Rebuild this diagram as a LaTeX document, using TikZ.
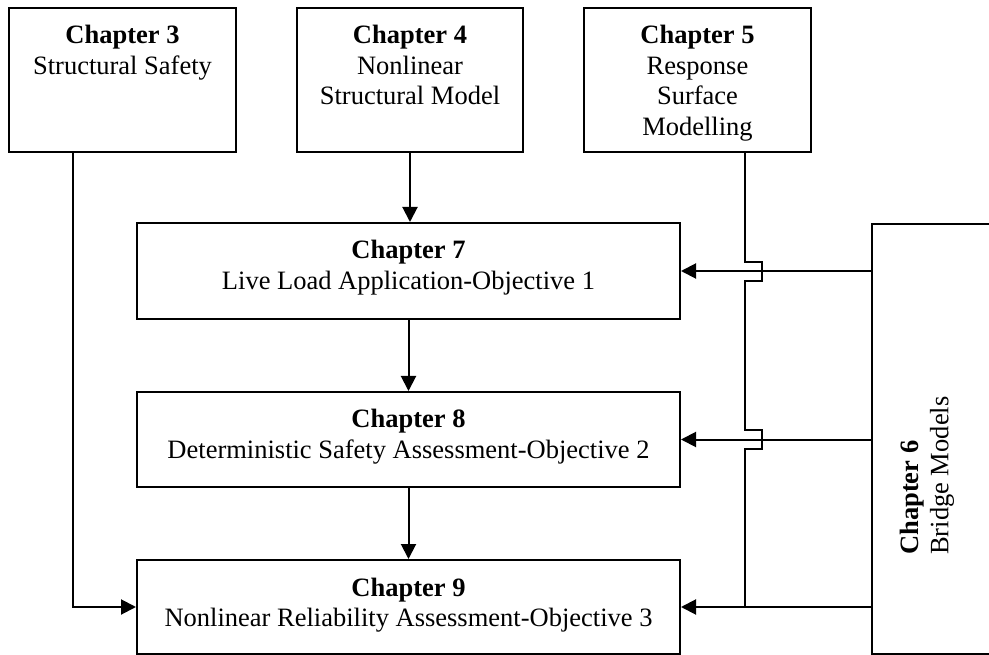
\documentclass[tikz,border=0pt]{standalone}
\usepackage{fontspec}
\setmainfont{Liberation Serif}
\usetikzlibrary{arrows.meta,calc}
\begin{document}
\begin{tikzpicture}[x=1pt,y=-1pt,
  box/.style={draw, line width=2pt, inner sep=0pt},
  txt/.style={inner sep=0pt, anchor=base, font=\fontsize{26.5}{30.4}\selectfont},
  arr/.style={line width=2pt, -{Triangle[length=15pt,width=15pt]}},
  link/.style={line width=1.5pt}]
\useasboundingbox (0,0) rectangle (989,655);
\clip (0,0) rectangle (989,655);
% boxes
\node[box, minimum width=227pt, minimum height=144pt] (c3) at (122.5,80) {};
\node[box, minimum width=226pt, minimum height=144pt] (c4) at (410,80) {};
\node[box, minimum width=227pt, minimum height=144pt] (c5) at (697.5,80) {};
\node[box, minimum width=543pt, minimum height=96pt] (c7) at (408.5,271) {};
\node[box, minimum width=543pt, minimum height=95pt] (c8) at (408.5,439.5) {};
\node[box, minimum width=543pt, minimum height=94pt] (c9) at (408.5,607) {};
\node[box, minimum width=138pt, minimum height=430pt] (c6) at (941,439) {};
% texts
\node[txt] (t3) at (122.5,44) {\begin{tabular}[t]{@{}c@{}}\textbf{Chapter 3}\\Structural Safety\end{tabular}};
\node[txt] (t4) at (410,44) {\begin{tabular}[t]{@{}c@{}}\textbf{Chapter 4}\\Nonlinear\\Structural Model\end{tabular}};
\node[txt] (t5) at (697.5,44) {\begin{tabular}[t]{@{}c@{}}\textbf{Chapter 5}\\Response\\Surface\\Modelling\end{tabular}};
\node[txt] (t7) at (408.5,259) {\begin{tabular}[t]{@{}c@{}}\textbf{Chapter 7}\\Live Load Application-Objective 1\end{tabular}};
\node[txt] (t8) at (408.5,428) {\begin{tabular}[t]{@{}c@{}}\textbf{Chapter 8}\\Deterministic Safety Assessment-Objective 2\end{tabular}};
\node[txt] (t9) at (408.5,596) {\begin{tabular}[t]{@{}c@{}}\textbf{Chapter 9}\\Nonlinear Reliability Assessment-Objective 3\end{tabular}};
\node[txt, rotate=90, anchor=base west] (t6) at (918,555) {\begin{tabular}[t]{@{}l@{}}\textbf{Chapter 6}\\Bridge Models\end{tabular}};
% connectors
\coordinate (j9) at (745,0 |- c9.east);
\draw[arr] (c4.south) -- (c4.south |- c7.north);
\draw[arr] (c7.south) -- (c8.north);
\draw[arr] (c8.south) -- (c9.north);
\draw[arr] (73,0 |- c3.south) |- (c9.west);
\draw[arr] (c6.west |- c7.east) -- (c7.east);
\draw[arr] (c6.west |- c8.east) -- (c8.east);
\draw[arr] (c6.west |- c9.east) -- (c9.east);
\draw[link] (745,0 |- c5.south) -- (745,262) -- (762,262) -- (762,281) -- (745,281)
  -- (745,430) -- (762,430) -- (762,449) -- (745,449) -- (j9);
\end{tikzpicture}
\end{document}
